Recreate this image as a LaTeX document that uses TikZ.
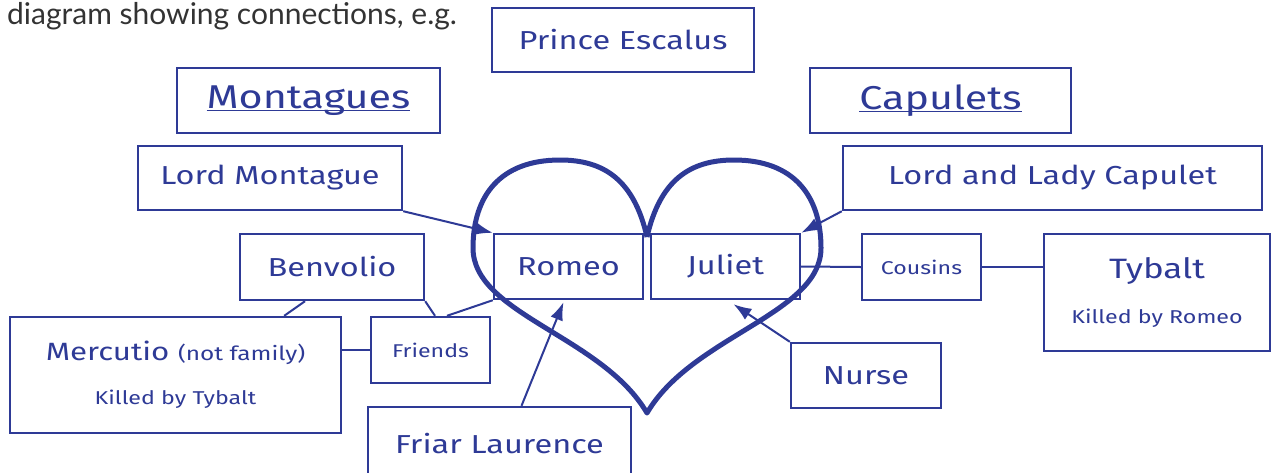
\documentclass[tikz,border=0pt]{standalone}
\usepackage{fontspec}
\setmainfont{Fira Sans}[FakeStretch=1.25]
\newfontfamily\introfont{Lato}
\usetikzlibrary{arrows.meta}
\definecolor{inkblue}{RGB}{46,58,150}
\definecolor{introgray}{RGB}{51,51,51}
\newcommand\underhead[1]{\setbox0\hbox{#1}\rlap{\rule[-3pt]{\wd0}{1pt}}\box0}

\begin{document}
\begin{tikzpicture}[x=1pt,y=-1pt,>={Latex[length=18pt,width=13pt]},
    inkblue,font=\fontsize{26}{30}\selectfont,
    box/.style={draw,line width=2.4pt,inner sep=0pt},
    heading/.style={box,font=\fontsize{33}{36}\selectfont},
    small box/.style={box,font=\fontsize{18.5}{22}\selectfont},
    link/.style={line width=2pt},
    heart/.style={line width=5pt,line join=round}]
    \useasboundingbox (0,0) rectangle (1273,472);
    \node[anchor=base west,inner sep=0pt,text=introgray,
      font=\introfont\fontsize{30}{33}\selectfont] (intro) at (7,24)
      {diagram showing connections, e.g.};
    % the heart round the two lovers
    \draw[heart] (647,237) .. controls (634,180) and (604,160) .. (560,160)
      .. controls (500,160) and (473,196) .. (473,248)
      .. controls (473,314) and (602,336) .. (647,413)
      .. controls (692,336) and (821,314) .. (821,248)
      .. controls (821,196) and (794,160) .. (734,160)
      .. controls (690,160) and (660,180) .. (647,237);
    \node[box,minimum width=262pt,minimum height=64pt] (prince) at (623,40) {Prince Escalus};
    \node[heading,minimum width=263pt,minimum height=65pt] (montagues) at (308.5,100.5) {\underhead{Montagues}};
    \node[heading,minimum width=261pt,minimum height=65pt] (capulets) at (940.5,100.5) {\underhead{Capulets}};
    \node[box,minimum width=264pt,minimum height=64pt] (lordm) at (270,178) {Lord Montague};
    \node[box,minimum width=419pt,minimum height=64pt] (lordc) at (1052.5,178) {Lord and Lady Capulet};
    \node[box,minimum width=184pt,minimum height=66pt] (benvolio) at (332,267) {Benvolio};
    \node[box,minimum width=149pt,minimum height=65pt] (romeo) at (568.5,266.5) {Romeo};
    \node[box,minimum width=149pt,minimum height=65pt] (juliet) at (725.5,266.5) {Juliet};
    \node[small box,minimum width=119pt,minimum height=66pt] (cousins) at (921.5,267) {Cousins};
    \node[box,minimum width=226pt,minimum height=117pt,align=center] (tybalt) at (1157,292.5)
      {{\fontsize{28}{30}\selectfont Tybalt}\\[15pt]{\fontsize{18.6}{22}\selectfont Killed by Romeo}};
    \node[box,minimum width=331pt,minimum height=116pt,align=center] (mercutio) at (175.5,375)
      {{\fontsize{25}{30}\selectfont Mercutio} {\fontsize{19.5}{24}\selectfont(not family)}\\[14pt]{\fontsize{18.6}{22}\selectfont Killed by Tybalt}};
    \node[small box,minimum width=119pt,minimum height=66pt] (friends) at (430.5,350) {Friends};
    \node[box,minimum width=150pt,minimum height=65pt] (nurse) at (866,375.5) {Nurse};
    \node[box,minimum width=263pt,minimum height=73pt] (friar) at (499.5,443.5) {Friar Laurence};
    \path[->,link]
    (lordm.south east) edge (romeo.north west)
    (lordc.south west) edge (juliet.north east)
    ([xshift=22pt]friar.north) edge ([xshift=-5pt,yshift=-2pt]romeo.south)
    (nurse.north west) edge ([xshift=8pt,yshift=-4pt]juliet.south)
    ;
    \path[link]
    ([xshift=-27pt]benvolio.south) edge ([xshift=-58pt]mercutio.north east)
    (benvolio.south east) edge ([xshift=4.5pt]friends.north)
    ([xshift=16.5pt]friends.north) edge (romeo.south west)
    (friends.west) edge (friends.west -| mercutio.east)
    (juliet.east) edge (cousins.west)
    (cousins.east) edge (cousins.east -| tybalt.west)
    ;
\end{tikzpicture}
\end{document}
